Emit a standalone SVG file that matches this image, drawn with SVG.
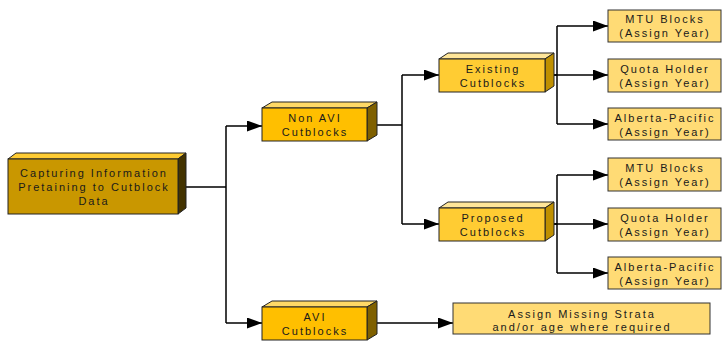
<svg xmlns="http://www.w3.org/2000/svg" width="725" height="344" viewBox="0 0 725 344">
<defs>
<marker id="ah" markerWidth="15" markerHeight="11" refX="15" refY="5.5" orient="auto" markerUnits="userSpaceOnUse">
<path d="M0,0 L15,5.5 L0,11 Z" fill="#000"/>
</marker>
<style>
text{font-family:"Liberation Sans",Arial,sans-serif;font-size:11px;letter-spacing:2px;fill:#1a1a1a;text-anchor:middle}
.e{stroke:#000;stroke-width:1.5;fill:none}
.a{marker-end:url(#ah)}
.b{stroke:#222;stroke-width:1}
.r1{fill:#C99700}.t1{fill:#FFCC33}.s1{fill:#433300}
.r2{fill:#FFBF00}.t2{fill:#FFD966}.s2{fill:#7F6000}
.r3{fill:#FFCC33}.t3{fill:#FFE699}.s3{fill:#BF9000}
.lf{fill:#FFDB75;stroke:#333;stroke-width:1}
</style>
</defs>
<rect width="725" height="344" fill="#fff"/>
<g id="connectors">
<path class="e" d="M178,187 H226 M226,126 V323"/>
<path class="e a" d="M226,126 H262"/>
<path class="e a" d="M226,323 H262"/>
<path class="e" d="M367,125 H402 M402,75 V224"/>
<path class="e a" d="M402,75 H439"/>
<path class="e a" d="M402,224 H439"/>
<path class="e" d="M545,75 H557 M557,26 V124"/>
<path class="e a" d="M557,26 H608"/>
<path class="e a" d="M545,75 H608"/>
<path class="e a" d="M557,124 H608"/>
<path class="e" d="M545,224 H557 M557,175 V273"/>
<path class="e a" d="M557,175 H608"/>
<path class="e a" d="M545,224 H608"/>
<path class="e a" d="M557,273 H608"/>
<path class="e a" d="M367,323 H453"/>
</g>
<g id="root">
<polygon class="b t1" points="8,159 16,153 186,153 178,159"/>
<polygon class="b s1" points="178,159 186,153 186,208 178,214"/>
<rect class="b r1" x="8" y="159" width="170" height="55"/>
<text x="94" y="177">Capturing Information</text>
<text x="94" y="191">Pretaining to Cutblock</text>
<text x="94" y="205">Data</text>
</g>
<g id="nonavi">
<polygon class="b t2" points="262,108 272,102 377,102 367,108"/>
<polygon class="b s2" points="367,108 377,102 377,135 367,141"/>
<rect class="b r2" x="262" y="108" width="105" height="33"/>
<text x="315" y="122">Non AVI</text>
<text x="315" y="136">Cutblocks</text>
</g>
<g id="avi">
<polygon class="b t2" points="262,307 272,301 377,301 367,307"/>
<polygon class="b s2" points="367,307 377,301 377,334 367,340"/>
<rect class="b r2" x="262" y="307" width="105" height="33"/>
<text x="315" y="321">AVI</text>
<text x="315" y="335">Cutblocks</text>
</g>
<g id="existing">
<polygon class="b t3" points="439,59 448,53 554,53 545,59"/>
<polygon class="b s3" points="545,59 554,53 554,86 545,92"/>
<rect class="b r3" x="439" y="59" width="106" height="33"/>
<text x="493" y="73">Existing</text>
<text x="493" y="87">Cutblocks</text>
</g>
<g id="proposed">
<polygon class="b t3" points="439,208 448,202 554,202 545,208"/>
<polygon class="b s3" points="545,208 554,202 554,235 545,241"/>
<rect class="b r3" x="439" y="208" width="106" height="33"/>
<text x="493" y="222">Proposed</text>
<text x="493" y="236">Cutblocks</text>
</g>
<g id="mtu1"><rect class="lf" x="608" y="10" width="113" height="32"/><text x="665" y="23">MTU Blocks</text><text x="665" y="37">(Assign Year)</text></g>
<g id="quota1"><rect class="lf" x="608" y="59" width="113" height="33"/><text x="665" y="73">Quota Holder</text><text x="665" y="87">(Assign Year)</text></g>
<g id="alpac1"><rect class="lf" x="608" y="108" width="113" height="32"/><text x="665" y="122">Alberta-Pacific</text><text x="665" y="136">(Assign Year)</text></g>
<g id="mtu2"><rect class="lf" x="608" y="158" width="113" height="33"/><text x="665" y="172">MTU Blocks</text><text x="665" y="186">(Assign Year)</text></g>
<g id="quota2"><rect class="lf" x="608" y="208" width="113" height="33"/><text x="665" y="222">Quota Holder</text><text x="665" y="236">(Assign Year)</text></g>
<g id="alpac2"><rect class="lf" x="608" y="257" width="113" height="32"/><text x="665" y="271">Alberta-Pacific</text><text x="665" y="285">(Assign Year)</text></g>
<g id="missing"><rect class="lf" x="453" y="303" width="257" height="31"/><text x="582" y="318">Assign Missing Strata</text><text x="582" y="331">and/or age where required</text></g>
</svg>
